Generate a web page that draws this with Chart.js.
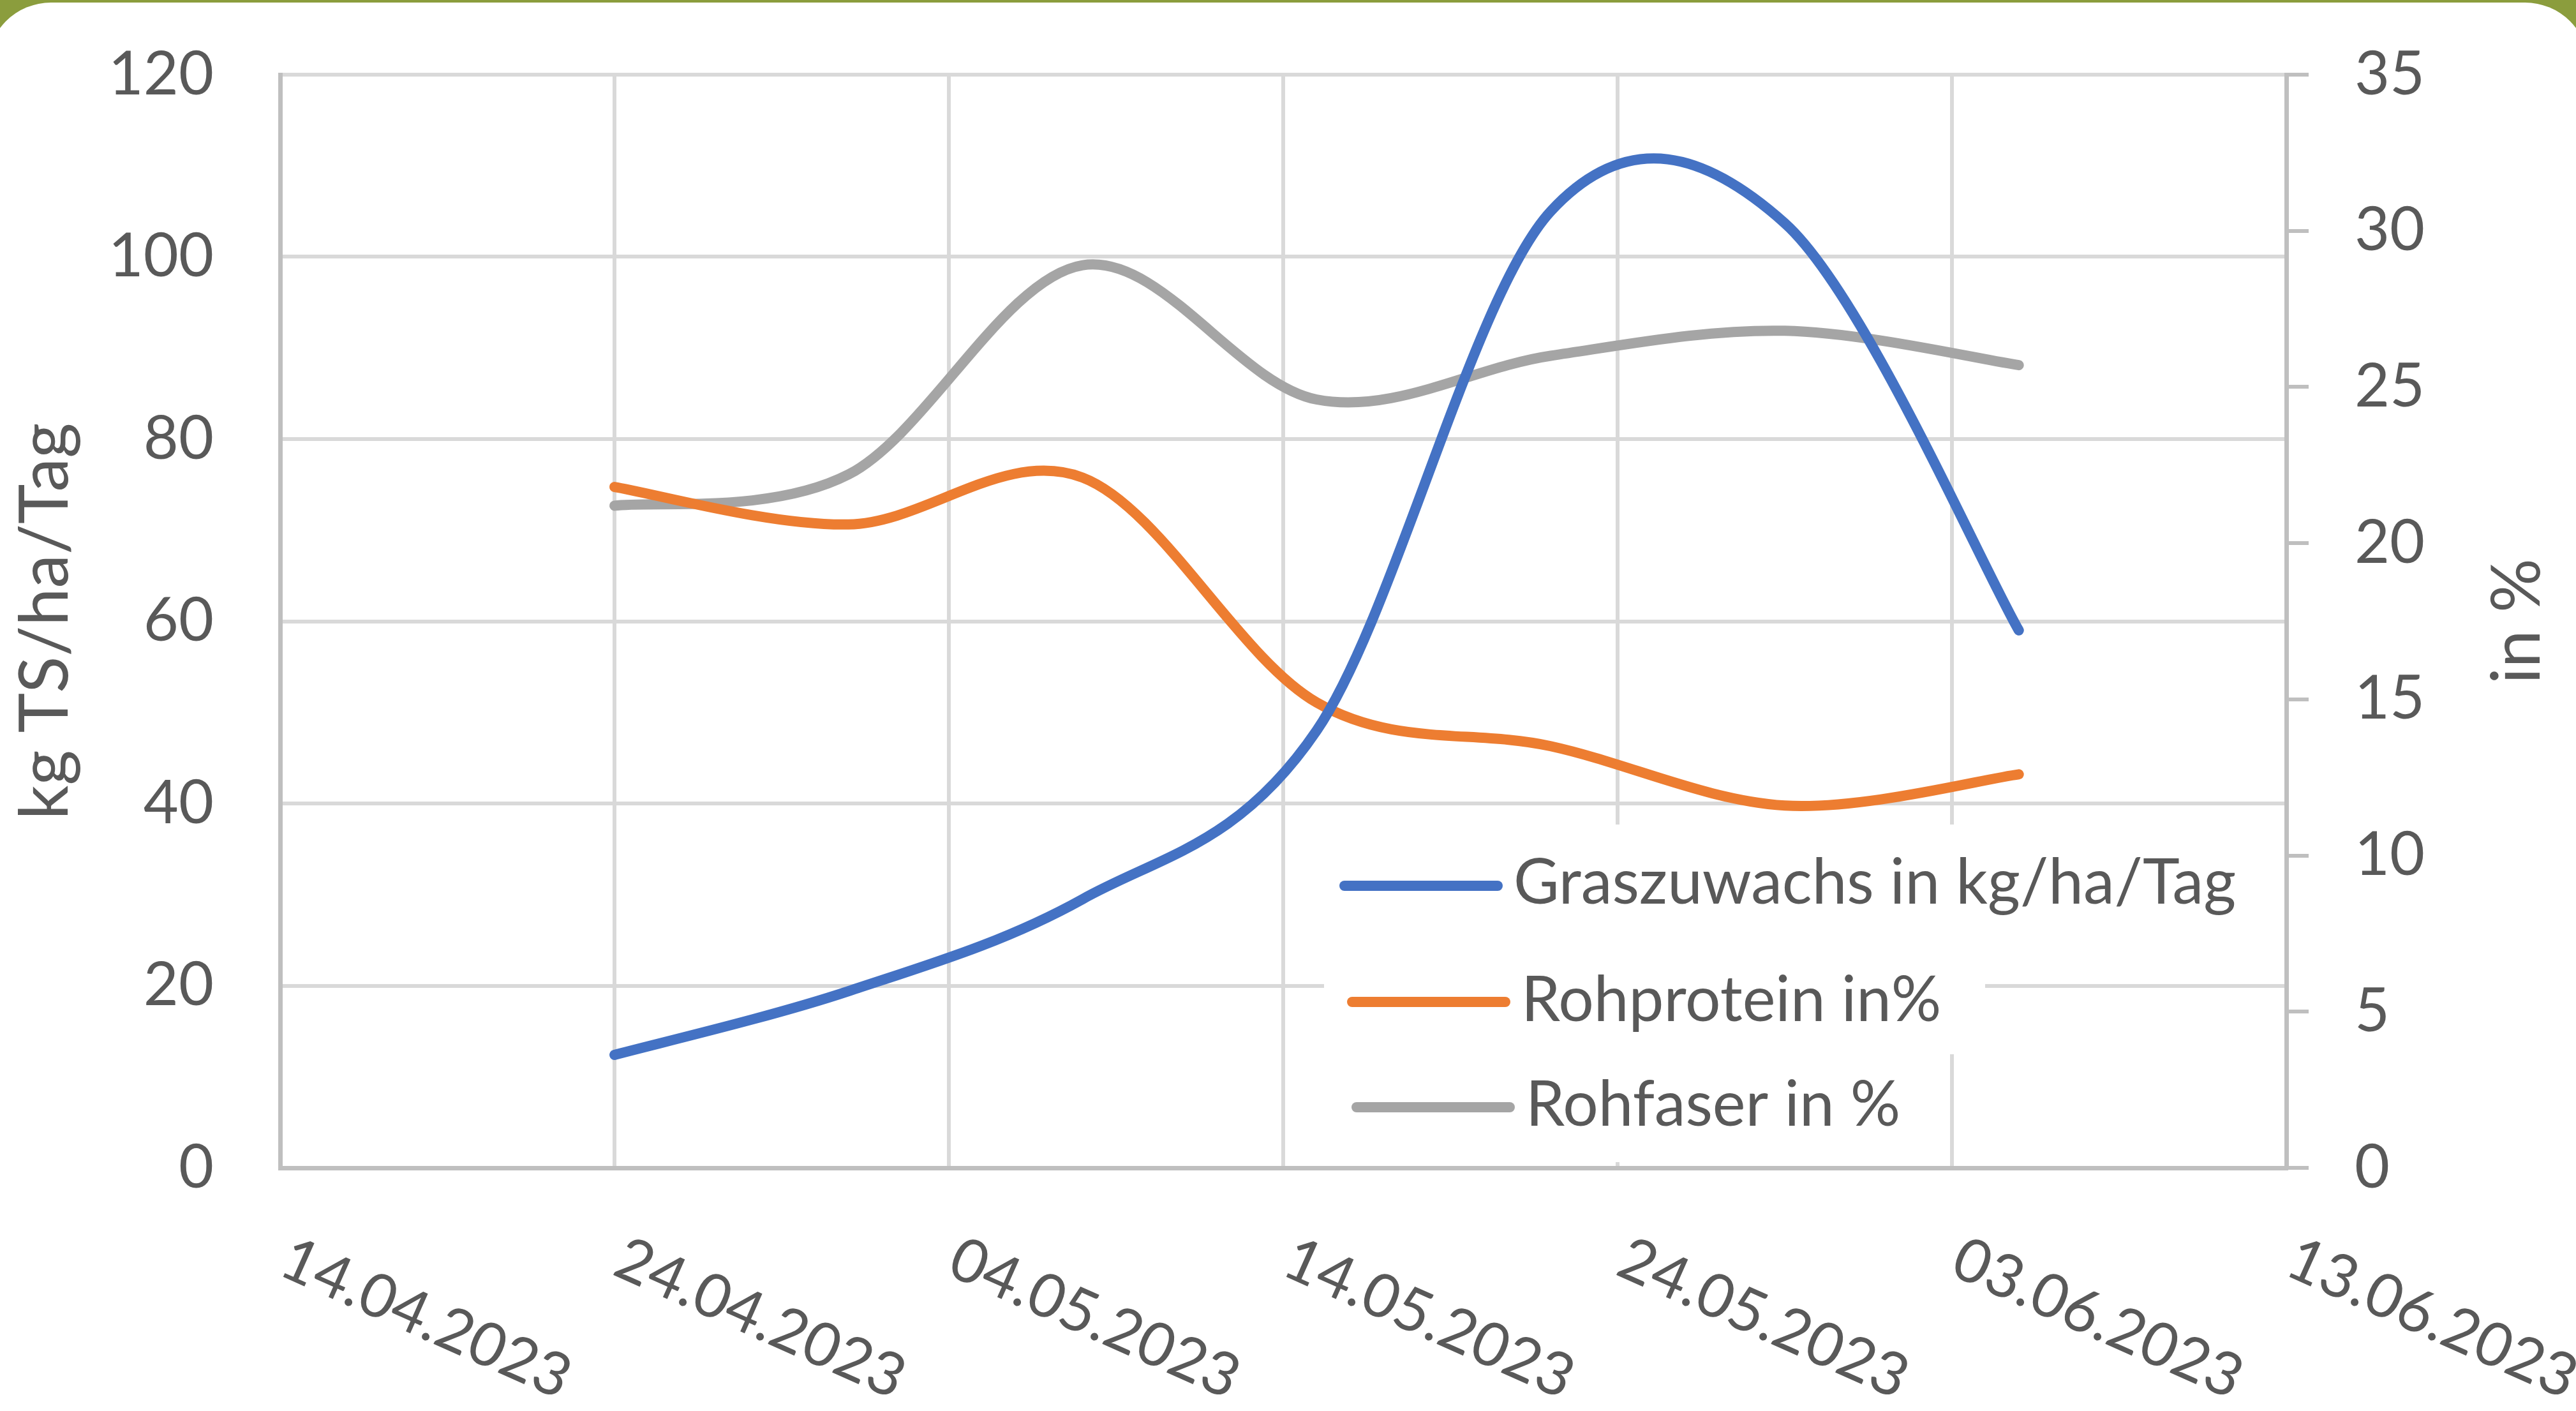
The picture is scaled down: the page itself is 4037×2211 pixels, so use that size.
<!DOCTYPE html>
<html>
<head>
<meta charset="utf-8">
<script src="https://cdn.jsdelivr.net/npm/chart.js@4.4.1/dist/chart.umd.min.js"></script>
<style>
  html, body { margin: 0; padding: 0; }
  body { width: 4037px; height: 2211px; overflow: hidden; background: #8b9d3d; position: relative; }
  .sheet { position: absolute; left: -20px; top: 4px; width: 4077px; height: 2400px; background: #fff; border-radius: 100px; }
  #chart { position: absolute; left: 0; top: 0; }
</style>
</head>
<body>
<div class="sheet"></div>
<canvas id="chart" width="4037" height="2211"></canvas>
<script>
// sampling dates (dd.mm.yyyy)
const sampleDates = ['24.04.2023', '01.05.2023', '08.05.2023', '15.05.2023', '22.05.2023', '29.05.2023', '05.06.2023'];
// kg TS/ha/Tag, left axis
const graszuwachs = [12.4, 19.4, 29.5, 48.0, 105.0, 103.7, 59.0];
// percent, right axis
const rohprotein = [21.8, 20.6, 22.1, 14.9, 13.5, 11.6, 12.6];
const rohfaser = [21.2, 22.2, 28.9, 24.6, 26.0, 26.8, 25.7];

const xTickLabels = ['14.04.2023', '24.04.2023', '04.05.2023', '14.05.2023', '24.05.2023', '03.06.2023', '13.06.2023'];
const leftTicks = [0, 20, 40, 60, 80, 100, 120];
const rightTicks = [0, 5, 10, 15, 20, 25, 30, 35];

const seriesNames = ['Graszuwachs in kg/ha/Tag', 'Rohprotein in%', 'Rohfaser in %'];
const seriesColors = ['#4472c4', '#ed7d31', '#a5a5a5'];

const TEXT = '#595959';
const FONT = 'Lato';

// date string -> day number
function dayOf(s) {
  const [d, m, y] = s.split('.').map(Number);
  return Date.UTC(y, m - 1, d) / 86400000;
}

function toPoints(values) {
  return values.map((v, i) => ({ x: dayOf(sampleDates[i]), y: v }));
}

// Excel style smoothing (Catmull-Rom, 1/6 handles)
const excelSmooth = {
  id: 'excelSmooth',
  beforeDatasetDraw(chart, args) {
    const meta = args.meta;
    const pts = meta.data;
    meta.dataset.updateControlPoints(chart.chartArea, meta.iScale.axis);
    for (let i = 0; i < pts.length; i++) {
      const p = pts[i];
      const prev = pts[Math.max(i - 1, 0)];
      const next = pts[Math.min(i + 1, pts.length - 1)];
      const dx = (next.x - prev.x) / 6;
      const dy = (next.y - prev.y) / 6;
      p.cp1x = p.x - dx; p.cp1y = p.y - dy;
      p.cp2x = p.x + dx; p.cp2y = p.y + dy;
    }
  }
};

// legend sitting inside the plot, each row on its own white box
const legendBoxes = {
  id: 'legendBoxes',
  beforeDatasetsDraw(chart) {
    const ctx = chart.ctx;
    ctx.save();
    ctx.fillStyle = '#fff';
    ctx.fillRect(2075, 1292, 1485, 180);
    ctx.fillRect(2075, 1470, 1036, 182);
    ctx.fillRect(2075, 1650, 965, 171);
    const rows = [
      { x: 2107, y: 1388, base: 1416 },
      { x: 2119, y: 1570, base: 1600 },
      { x: 2126, y: 1735, base: 1764 }
    ];
    rows.forEach((r, i) => {
      ctx.strokeStyle = seriesColors[i];
      ctx.lineWidth = 16;
      ctx.lineCap = 'round';
      ctx.beginPath();
      ctx.moveTo(r.x, r.y);
      ctx.lineTo(r.x + 240, r.y);
      ctx.stroke();
      ctx.fillStyle = TEXT;
      ctx.font = '98px ' + FONT;
      ctx.textAlign = 'left';
      ctx.textBaseline = 'alphabetic';
      ctx.fillText(seriesNames[i], r.x + 265, r.base);
    });
    ctx.restore();
  }
};

// slanted date labels and the two axis titles
const axisText = {
  id: 'axisText',
  afterDraw(chart) {
    const ctx = chart.ctx;
    const xs = chart.scales.x;
    ctx.save();
    ctx.fillStyle = TEXT;
    ctx.font = '95px ' + FONT;
    ctx.textAlign = 'left';
    ctx.textBaseline = 'alphabetic';
    xTickLabels.forEach(lbl => {
      const px = xs.getPixelForValue(dayOf(lbl));
      ctx.save();
      ctx.translate(px - 6, 1996);
      ctx.rotate(24 * Math.PI / 180);
      ctx.fillText(lbl, 0, 0);
      ctx.restore();
    });
    const midY = (chart.chartArea.top + chart.chartArea.bottom) / 2;
    ctx.font = '106px ' + FONT;
    ctx.textAlign = 'center';
    ctx.save();
    ctx.translate(106, midY);
    ctx.rotate(-Math.PI / 2);
    ctx.fillText('kg TS/ha/Tag', 0, 0);
    ctx.restore();
    ctx.save();
    ctx.translate(3980, midY);
    ctx.rotate(-Math.PI / 2);
    ctx.fillText('in %', 0, 0);
    ctx.restore();
    ctx.restore();
  }
};

const lineStyle = {
  borderWidth: 16,
  pointRadius: 0,
  tension: 0.4,
  borderCapStyle: 'round',
  borderJoinStyle: 'round',
  fill: false
};

// keep the plot area where the reference has it
function fixWidth(w) {
  return s => {
    s.width = w;
    s.paddingTop = 0;
    s.paddingBottom = 0;
  };
}

new Chart(document.getElementById('chart'), {
  type: 'line',
  data: {
    datasets: [
      { ...lineStyle, label: seriesNames[0], data: toPoints(graszuwachs), borderColor: seriesColors[0], yAxisID: 'y' },
      { ...lineStyle, label: seriesNames[1], data: toPoints(rohprotein), borderColor: seriesColors[1], yAxisID: 'y1' },
      { ...lineStyle, label: seriesNames[2], data: toPoints(rohfaser), borderColor: seriesColors[2], yAxisID: 'y1' }
    ]
  },
  options: {
    responsive: false,
    animation: false,
    layout: { padding: { top: 117, left: 0, right: 0, bottom: 0 } },
    plugins: {
      legend: { display: false },
      tooltip: { enabled: false }
    },
    scales: {
      x: {
        type: 'linear',
        min: dayOf(xTickLabels[0]),
        max: dayOf(xTickLabels[xTickLabels.length - 1]),
        afterBuildTicks: s => { s.ticks = xTickLabels.map(l => ({ value: dayOf(l) })); },
        ticks: { display: false },
        grid: { color: '#d9d9d9', lineWidth: 6, drawTicks: false },
        border: { color: '#bfbfbf', width: 7, z: 1 },
        afterFit: s => {
          s.height = 2211 - 1830;
          s.paddingLeft = 0;
          s.paddingRight = 0;
        }
      },
      y: {
        position: 'left',
        min: 0,
        max: 120,
        afterBuildTicks: s => { s.ticks = leftTicks.map(v => ({ value: v })); },
        ticks: { color: TEXT, font: { family: FONT, size: 95 }, padding: 104 },
        grid: { color: '#d9d9d9', lineWidth: 6, drawTicks: false },
        border: { color: '#bfbfbf', width: 7, z: 1 },
        afterFit: fixWidth(439)
      },
      y1: {
        position: 'right',
        min: 0,
        max: 35,
        afterBuildTicks: s => { s.ticks = rightTicks.map(v => ({ value: v })); },
        ticks: { color: TEXT, font: { family: FONT, size: 95 }, padding: 72 },
        grid: { drawOnChartArea: false, drawTicks: true, tickLength: 35, color: '#bfbfbf', lineWidth: 6 },
        border: { color: '#bfbfbf', width: 7, z: 1 },
        afterFit: fixWidth(4037 - 3583)
      }
    }
  },
  plugins: [excelSmooth, legendBoxes, axisText]
});
</script>
</body>
</html>
